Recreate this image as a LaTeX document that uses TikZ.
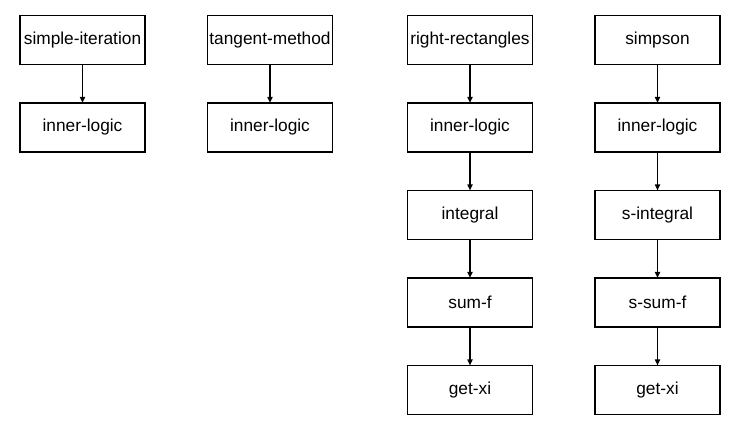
\documentclass[tikz,border=0pt]{standalone}
\usepackage{fontspec}
\setmainfont{Liberation Sans}
\usetikzlibrary{positioning, arrows.meta}

\tikzset{
    module/.style={rectangle, draw, line width=1.8pt, outer sep=0pt, inner sep=0pt,
        minimum width=125pt, minimum height=49pt, font=\fontsize{17.3pt}{20pt}\selectfont},
    call/.style={-{Triangle[length=6pt, width=5pt]}, line width=1.6pt}
}

\begin{document}
\begin{tikzpicture}[x=1pt, y=-1pt, node distance=38.5pt]
        \useasboundingbox (0,0) rectangle (737,427); % Page size of the reference

        % Simple iteration
        \node [module] (iter) at (82.5,40) {simple-iteration};
        \node [module, below=of iter] (iterlogic) {inner-logic};

        % Tangent method
        \node [module] (tang) at (270,40) {tangent-method};
        \node [module, below=of tang] (tanglogic) {inner-logic};

        % Right rectangles
        \node [module] (rect) at (470,40) {right-rectangles};
        \node [module, below=of rect] (rectlogic) {inner-logic};
        \node [module, below=of rectlogic] (rectint) {integral};
        \node [module, below=of rectint] (rectsum) {sum-f};
        \node [module, below=of rectsum] (rectxi) {get-xi};

        % Simpson
        \node [module] (simp) at (657.5,40) {simpson};
        \node [module, below=of simp] (simplogic) {inner-logic};
        \node [module, below=of simplogic] (simpint) {s-integral};
        \node [module, below=of simpint] (simpsum) {s-sum-f};
        \node [module, below=of simpsum] (simpxi) {get-xi};

        \draw [call] (iter) -- (iterlogic);
        \draw [call] (tang) -- (tanglogic);
        \draw [call] (rect) -- (rectlogic);
        \draw [call] (rectlogic) -- (rectint);
        \draw [call] (rectint) -- (rectsum);
        \draw [call] (rectsum) -- (rectxi);
        \draw [call] (simp) -- (simplogic);
        \draw [call] (simplogic) -- (simpint);
        \draw [call] (simpint) -- (simpsum);
        \draw [call] (simpsum) -- (simpxi);
    \end{tikzpicture}
\end{document}
